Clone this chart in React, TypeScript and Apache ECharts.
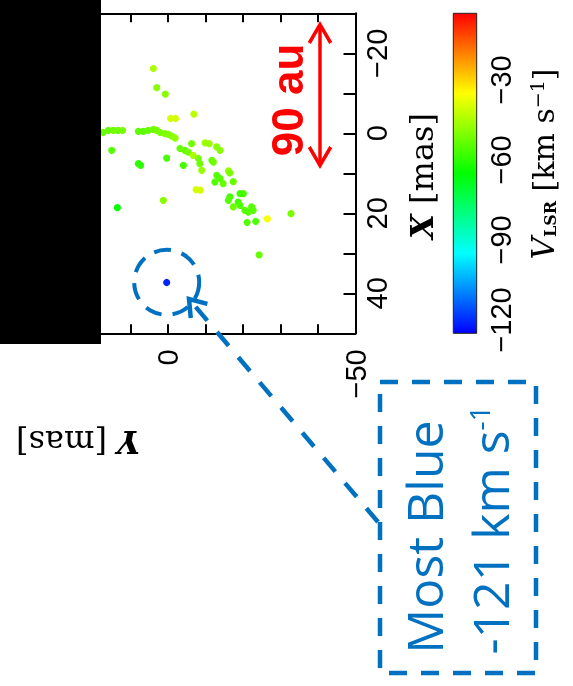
import React, { useEffect, useRef } from "react";
import * as echarts from "echarts";

// Maser spot offsets (mas). Horizontal axis shows Y, vertical axis shows X.
const spotY = [
  3.9, 3.0, 0.7, -0.7, -2.0, -6.9, 17.3, 15.9, 14.6, 13.3, 12.1, 7.9, 6.6, 5.3, 3.9, 3.0, 2.1, 0.8, -0.1, -1.0,
  -1.9, 15.0, -3.2, -4.5, -5.4, -6.3, -6.7, -8.1, -8.5, -4.1, -9.0, -9.9, -11.0, -13.0, -13.9, -11.7, -12.1,
  -16.1, -16.5, -13.0, -13.9, -14.7, -12.5, -17.4, -7.5, -8.6, -16.5, -16.1, -19.2, -20.1, -18.7, -19.2, -17.4,
  -20.5, -21.4, -22.3, -22.7, -21.1, -23.4, -26.5, -32.8, -24.3, 7.9, 7.3, 0.35, 1.25, 13.5, 0.35,
];
const spotX = [
  -16.2, -11.4, -9.8, -3.7, -3.7, -4.8, -0.2, -0.75, -0.75, -0.75, -0.7, -0.5, -0.5, -0.7, -1.0, -0.75, -0.2, 0.1,
  0.25, 0.7, 1.2, 4.25, 3.8, 4.25, 4.7, 2.6, 5.5, 6.3, 7.6, 8.0, 9.25, 2.4, 2.6, 3.4, 4.25, 6.75, 7.2, 9.4, 9.9,
  10.5, 11.3, 12.6, 12.2, 12.1, 14.1, 14.2, 15.9, 16.75, 15.1, 15.1, 17.2, 18.0, 18.4, 19.25, 19.7, 18.4, 19.25,
  22.3, 22.0, 21.4, 20.1, 30.4, 7.6, 8.0, 6.2, 16.75, 18.6, 37.3,
];
const spotVlsr = [
  -45, -49, -49, -40, -40, -43, -53, -53, -52, -52, -51, -54, -54, -53, -52, -52, -51, -50, -50, -49, -48, -55,
  -53, -53, -52, -52, -45, -51, -52, -57, -47, -47, -47, -49, -49, -53, -52, -47, -51, -55, -55, -53, -55, -53,
  -40, -40, -57, -55, -57, -57, -57, -56, -52, -55, -55, -55, -55, -55, -56, -36, -51, -53, -60, -60, -57, -49,
  -64, -121,
];

const yAxisTickLabels = [0, -50]; // labels on the horizontal (Y) axis
const xAxisTickLabels = [-20, 0, 20, 40]; // labels on the vertical (X) axis
const colorbarTicks = [-120, -90, -60, -30];
const colorbarRange = [-125, -5];
const rainbow = ["#0000ff", "#0080ff", "#00ffff", "#00ff80", "#00ff00", "#80ff00", "#ffff00", "#ff8000", "#ff0000"];

const minus = (v: number) => String(v).replace("-", "\u2212");
const BLUE = "#0070C0";

export default function App() {
  const ref = useRef<HTMLDivElement>(null);
  useEffect(() => {
    const chart = echarts.init(ref.current!, undefined, { renderer: "svg" });
    const data = spotY.map((y, i) => [y, spotX[i], spotVlsr[i]]);

    const tickFont = { fontFamily: "Liberation Sans", fontSize: 29, color: "#000" };
    const frameAxis = {
      type: "value" as const,
      axisLine: { show: true, onZero: false, lineStyle: { color: "#000", width: 2 } },
      splitLine: { show: false },
    };

    // dashed arrow geometry
    const aStart = [378, 522];
    const aTip = [189, 299];
    const dx = aStart[0] - aTip[0];
    const dy = aStart[1] - aTip[1];
    const len = Math.hypot(dx, dy);
    const ux = dx / len;
    const uy = dy / len;
    const headLen = 19;
    const ang = (35 * Math.PI) / 180;
    const rot = (a: number) => [ux * Math.cos(a) - uy * Math.sin(a), ux * Math.sin(a) + uy * Math.cos(a)];
    const l1 = rot(ang);
    const l2 = rot(-ang);

    const stops = rainbow.map((c, i) => ({ offset: i / (rainbow.length - 1), color: c }));

    chart.setOption({
      animation: false,
      grid: [
        { left: 55.5, top: 13.3, width: 300, height: 320 },
        { left: 453.3, top: 13.3, width: 23.4, height: 320 },
      ],
      xAxis: [
        {
          ...frameAxis,
          gridIndex: 0,
          position: "bottom",
          inverse: true,
          min: -50,
          max: 30,
          interval: 10,
          axisTick: { inside: true, length: 9, lineStyle: { color: "#000", width: 2 } },
          axisLabel: {
            ...tickFont,
            rotate: 90,
            margin: 16,
            formatter: (v: number) => (yAxisTickLabels.includes(v) ? minus(v) : ""),
          },
        },
        {
          ...frameAxis,
          gridIndex: 0,
          position: "top",
          inverse: true,
          min: -50,
          max: 30,
          interval: 10,
          axisTick: { inside: true, length: 9, lineStyle: { color: "#000", width: 2 } },
          axisLabel: { show: false },
        },
        { type: "value", gridIndex: 1, show: false, min: 0, max: 1 },
      ],
      yAxis: [
        {
          ...frameAxis,
          gridIndex: 0,
          position: "right",
          inverse: true,
          min: -30,
          max: 50,
          interval: 10,
          axisTick: { inside: true, length: 12, lineStyle: { color: "#000", width: 2 } },
          axisLabel: {
            ...tickFont,
            rotate: 90,
            margin: 7,
            formatter: (v: number) => (xAxisTickLabels.includes(v) ? minus(v) : ""),
          },
        },
        {
          ...frameAxis,
          gridIndex: 0,
          position: "left",
          inverse: true,
          min: -30,
          max: 50,
          interval: 10,
          axisTick: { inside: true, length: 12, lineStyle: { color: "#000", width: 2 } },
          axisLabel: { show: false },
        },
        {
          type: "value",
          gridIndex: 1,
          position: "right",
          min: colorbarRange[0],
          max: colorbarRange[1],
          axisLine: { show: false },
          splitLine: { show: false },
          axisTick: {
            show: true,
            inside: false,
            length: 6,
            customValues: colorbarTicks,
            lineStyle: { color: "#000", width: 1.5 },
          },
          axisLabel: {
            ...tickFont,
            rotate: 90,
            margin: 10,
            customValues: colorbarTicks,
            formatter: (v: number) => minus(v),
          },
        },
      ],
      visualMap: {
        show: false,
        type: "continuous",
        min: colorbarRange[0],
        max: colorbarRange[1],
        dimension: 2,
        seriesIndex: 0,
        inRange: { color: rainbow },
      },
      series: [
        {
          type: "scatter",
          xAxisIndex: 0,
          yAxisIndex: 0,
          symbolSize: 7.2,
          data,
          itemStyle: { opacity: 1 },
          z: 3,
        },
      ],
      graphic: [
        {
          type: "rect",
          z: 50,
          shape: { x: 453.3, y: 13.3, width: 23.4, height: 320 },
          style: {
            fill: new echarts.graphic.LinearGradient(0, 1, 0, 0, stops),
            stroke: "#222",
            lineWidth: 1,
          },
        },
        { type: "rect", z: 100, shape: { x: 0, y: 0, width: 101, height: 344 }, style: { fill: "#000" } },
        // 90 au scale bar
        {
          type: "line",
          z: 60,
          shape: { x1: 320, y1: 26, x2: 320, y2: 164 },
          style: { stroke: "#ff0000", lineWidth: 3.5 },
        },
        {
          type: "polyline",
          z: 60,
          shape: { points: [[309.3, 43], [320, 24.5], [330.7, 43]] },
          style: { stroke: "#ff0000", lineWidth: 3.5, fill: "none" },
        },
        {
          type: "polyline",
          z: 60,
          shape: { points: [[309.3, 147], [320, 165.5], [330.7, 147]] },
          style: { stroke: "#ff0000", lineWidth: 3.5, fill: "none" },
        },
        {
          type: "text",
          z: 60,
          x: 287,
          y: 100,
          rotation: Math.PI / 2,
          style: {
            text: "90 au",
            fill: "#ff0000",
            fontFamily: "Liberation Sans",
            fontWeight: "bold",
            fontSize: 44,
            align: "center",
            verticalAlign: "middle",
          },
        },
        // axis titles
        {
          type: "text",
          z: 60,
          x: 422,
          y: 176,
          rotation: Math.PI / 2,
          style: {
            text: "{i|X}{t| [mas]}",
            align: "center",
            verticalAlign: "middle",
            rich: {
              i: { fontFamily: "DejaVu Serif", fontStyle: "italic", fontWeight: "bold", fontSize: 32, fill: "#000" },
              t: { fontFamily: "DejaVu Serif", fontSize: 32, fill: "#000" },
            },
          },
        },
        {
          type: "text",
          z: 60,
          x: 78,
          y: 442,
          rotation: Math.PI,
          style: {
            text: "{i|Y}{t| [mas]}",
            align: "center",
            verticalAlign: "middle",
            rich: {
              i: { fontFamily: "DejaVu Serif", fontStyle: "italic", fontWeight: "bold", fontSize: 32, fill: "#000" },
              t: { fontFamily: "DejaVu Serif", fontSize: 32, fill: "#000" },
            },
          },
        },
        {
          type: "text",
          z: 60,
          x: 543,
          y: 164,
          rotation: Math.PI / 2,
          style: {
            text: "{v|V}{sub|LSR}{t| [km s}{sup|\u22121}{t|]}",
            align: "center",
            verticalAlign: "middle",
            rich: {
              v: { fontFamily: "DejaVu Serif", fontStyle: "italic", fontSize: 31, fill: "#000", verticalAlign: "middle" },
              t: { fontFamily: "DejaVu Serif", fontSize: 30, fill: "#000", verticalAlign: "middle" },
              sub: {
                fontFamily: "DejaVu Serif",
                fontWeight: "bold",
                fontSize: 16,
                fill: "#000",
                verticalAlign: "bottom",
              },
              sup: { fontFamily: "DejaVu Serif", fontSize: 19, fill: "#000", verticalAlign: "top" },
            },
          },
        },
        // Most blue annotation
        {
          type: "circle",
          z: 60,
          shape: { cx: 166.7, cy: 282.3, r: 32.5 },
          style: { fill: "none", stroke: BLUE, lineWidth: 4, lineDash: [17, 11] },
        },
        {
          type: "line",
          z: 60,
          shape: { x1: aStart[0], y1: aStart[1], x2: aTip[0] + ux * 2, y2: aTip[1] + uy * 2 },
          style: { stroke: BLUE, lineWidth: 4.5, lineDash: [18, 15] },
        },
        {
          type: "polyline",
          z: 60,
          shape: {
            points: [
              [aTip[0] + l1[0] * headLen, aTip[1] + l1[1] * headLen],
              [aTip[0], aTip[1]],
              [aTip[0] + l2[0] * headLen, aTip[1] + l2[1] * headLen],
            ],
          },
          style: { stroke: BLUE, lineWidth: 4.5, fill: "none" },
        },
        {
          type: "rect",
          z: 60,
          shape: { x: 380, y: 382, width: 156, height: 291 },
          style: { fill: "none", stroke: BLUE, lineWidth: 4.5, lineDash: [18, 14] },
        },
        {
          type: "text",
          z: 60,
          x: 424,
          y: 537,
          rotation: Math.PI / 2,
          style: {
            text: "Most Blue",
            fill: BLUE,
            fontFamily: "Open Sans",
            fontSize: 50,
            align: "center",
            verticalAlign: "middle",
          },
        },
        {
          type: "text",
          z: 60,
          x: 490,
          y: 530,
          rotation: Math.PI / 2,
          style: {
            text: "{m|-121 km s}{sup|-1}",
            align: "center",
            verticalAlign: "middle",
            rich: {
              m: { fontFamily: "Open Sans", fontSize: 50, fill: BLUE, verticalAlign: "middle" },
              sup: { fontFamily: "Open Sans", fontSize: 28, fill: BLUE, verticalAlign: "top" },
            },
          },
        },
      ],
    });
    return () => chart.dispose();
  }, []);
  return <div ref={ref} style={{ position: "fixed", left: 0, top: 0, width: 573, height: 686 }} />;
}
